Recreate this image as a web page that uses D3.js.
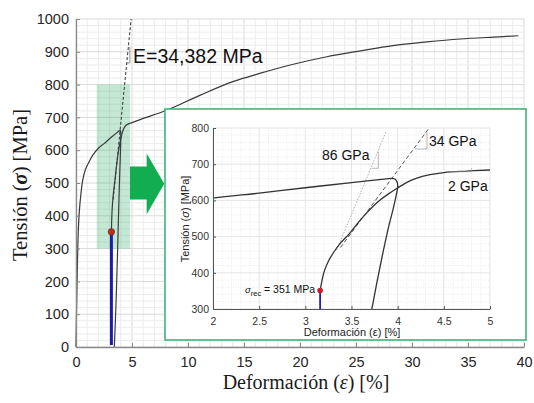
<!DOCTYPE html>
<html>
<head>
<meta charset="utf-8">
<script src="https://cdn.jsdelivr.net/npm/d3@7"></script>
<style>
  html, body { margin: 0; padding: 0; background: #fff; }
  svg { display: block; }
</style>
</head>
<body>
<svg id="chart" width="534" height="403"></svg>
<script>
// ---- Data: stress–strain test with unload / reload cycle ----
// First loading branch (strain %, stress MPa)
const loadStrain = [0, 0.05, 0.1, 0.15, 0.2, 0.3, 0.45, 0.6, 0.85, 1.16, 1.5, 2.0, 2.5, 3.0, 3.5, 3.93];
const loadStress = [0, 110, 210, 290, 350, 415, 470, 509, 542, 564, 585, 606, 620, 635, 649, 661];

// Unloading branch
const unloadStrain = [3.93, 3.97, 3.995, 4.0, 3.985, 3.95, 3.9, 3.84, 3.78, 3.72, 3.66, 3.58, 3.5, 3.42];
const unloadStress = [661, 659, 650, 637, 615, 575, 525, 455, 380, 300, 230, 140, 65, 0];

// Reloading branch, from the recovery stress up to fracture
const reloadStrain = [3.16, 3.17, 3.19, 3.21, 3.25, 3.30, 3.38, 3.48, 3.57, 3.66, 3.74, 3.81, 3.9, 3.99, 4.1, 4.2, 4.35, 4.5, 4.75, 5.0, 6.0, 8.1, 11.1, 14.0, 16.4, 19.4, 22.4, 25.4, 28.3, 31.3, 34.3, 37.3, 39.5];
const reloadStress = [351, 365, 390, 408, 432, 454, 482, 509, 538, 564, 585, 601, 618, 633, 650, 661, 671, 677, 681, 684, 697, 722, 768, 809, 834, 862, 885, 903, 919, 930, 939, 945, 949];

// Recovery point
const recoveryStrain = 3.16;
const recoveryStress = 351;

// Tangent modulus lines
const modulusE = 343.82;          // MPa per % strain  (E = 34,382 MPa)
const modulusStrain0 = 2.014;     // strain intercept of the E line
const mainTangentStress = [450, 1000];
const insetTangentStress = [470, 803];
const steepStrain = [3.34, 3.874]; // 86 GPa tangent
const steepStress = [463, 790];

// Ticks
const strainTicks = [0, 5, 10, 15, 20, 25, 30, 35, 40];
const stressTicks = [0, 100, 200, 300, 400, 500, 600, 700, 800, 900, 1000];
const insetStrainTicks = [2, 2.5, 3, 3.5, 4, 4.5, 5];
const insetStressTicks = [300, 400, 500, 600, 700, 800];

// Zoom window highlighted on the main plot
const zoomStrain = [1.85, 4.82];
const zoomStress = [300, 800];

const zip = (xs, ys) => xs.map((v, i) => [v, ys[i]]);
const loading = zip(loadStrain, loadStress);
const unloading = zip(unloadStrain, unloadStress);
const reloading = zip(reloadStrain, reloadStress);
const tangentMain = mainTangentStress.map(s => [modulusStrain0 + s / modulusE, s]);
const tangentInset = insetTangentStress.map(s => [modulusStrain0 + s / modulusE, s]);
const steepLine = zip(steepStrain, steepStress);

const svg = d3.select("#chart");
const sansFont = "'Liberation Sans', Arial, sans-serif";
const serifFont = "'Liberation Serif', 'Times New Roman', serif";

// ---------------- Main chart ----------------
const x = d3.scaleLinear().domain([0, 40]).range([76, 524]);
const y = d3.scaleLinear().domain([0, 1000]).range([347, 19]);

const main = svg.append("g");

// grid
const gGrid = main.append("g");
gGrid.selectAll("line.vmin").data(d3.range(0, 41, 1)).join("line")
  .attr("x1", d => x(d)).attr("x2", d => x(d)).attr("y1", y(0)).attr("y2", y(1000))
  .attr("stroke", d => d % 5 === 0 ? "#d9d9d9" : "#ececec").attr("stroke-width", 1);
gGrid.selectAll("line.hmin").data(d3.range(0, 1001, 20)).join("line")
  .attr("y1", d => y(d)).attr("y2", d => y(d)).attr("x1", x(0)).attr("x2", x(40))
  .attr("stroke", d => d % 100 === 0 ? "#d9d9d9" : "#ececec").attr("stroke-width", 1);

// zoom window
main.append("rect")
  .attr("x", x(zoomStrain[0])).attr("y", y(zoomStress[1]))
  .attr("width", x(zoomStrain[1]) - x(zoomStrain[0]))
  .attr("height", y(zoomStress[0]) - y(zoomStress[1]))
  .attr("fill", "#3cb371").attr("fill-opacity", 0.3);

const lineMain = d3.line().x(d => x(d[0])).y(d => y(d[1])).curve(d3.curveCatmullRom.alpha(0.5));

main.append("path").datum(tangentMain).attr("d", d3.line().x(d => x(d[0])).y(d => y(d[1])))
  .attr("fill", "none").attr("stroke", "#333").attr("stroke-width", 1).attr("stroke-dasharray", "3,2");

[loading, unloading, reloading].forEach(seg => {
  main.append("path").datum(seg).attr("d", lineMain)
    .attr("fill", "none").attr("stroke", "#3a3a3a").attr("stroke-width", 1.2);
});

main.append("line")
  .attr("x1", x(recoveryStrain)).attr("x2", x(recoveryStrain))
  .attr("y1", y(0) - 2).attr("y2", y(recoveryStress))
  .attr("stroke", "#1c1ca8").attr("stroke-width", 3);
main.append("circle").attr("cx", x(recoveryStrain)).attr("cy", y(recoveryStress)).attr("r", 3.3)
  .attr("fill", "#b2321f").attr("stroke", "#6a1a10").attr("stroke-width", 0.5);

// axes
const xAxis = d3.axisBottom(x).tickValues(strainTicks).tickFormat(d3.format("d"))
  .tickSizeInner(-4).tickSizeOuter(0).tickPadding(10);
const yAxis = d3.axisLeft(y).tickValues(stressTicks).tickFormat(d3.format("d"))
  .tickSizeInner(-4).tickSizeOuter(0).tickPadding(7);
const gx = main.append("g").attr("transform", `translate(0,${y(0)})`).call(xAxis);
const gy = main.append("g").attr("transform", `translate(${x(0)},0)`).call(yAxis);
[gx, gy].forEach(g => {
  g.select(".domain").attr("stroke", "#8a8a8a").attr("stroke-width", 1.3);
  g.selectAll(".tick line").attr("stroke", "#8a8a8a");
  g.selectAll(".tick text").attr("fill", "#262626")
    .style("font-family", sansFont).style("font-size", "14.5px");
});

// axis titles
const xTitle = main.append("text").attr("x", 306).attr("y", 389).attr("text-anchor", "middle")
  .style("font-family", serifFont).style("font-size", "20px").attr("fill", "#1a1a1a");
xTitle.append("tspan").text("Deformación (");
xTitle.append("tspan").style("font-style", "italic").text("ε");
xTitle.append("tspan").text(") [%]");

const yTitle = main.append("text").attr("transform", "translate(27,185) rotate(-90)").attr("text-anchor", "middle")
  .style("font-family", serifFont).style("font-size", "20.5px").attr("fill", "#1a1a1a");
yTitle.append("tspan").text("Tensión (");
yTitle.append("tspan").style("font-style", "italic").style("font-weight", "bold").text("σ");
yTitle.append("tspan").text(") [MPa]");

// modulus label with slope triangle
{
  const sLo = 866, sHi = 915;
  const eLo = modulusStrain0 + sLo / modulusE, eHi = modulusStrain0 + sHi / modulusE;
  main.append("path")
    .attr("d", `M${x(eLo)},${y(sLo)}H${x(eHi) + 1.5}V${y(sHi)}`)
    .attr("fill", "none").attr("stroke", "#777").attr("stroke-width", 0.8);
  main.append("text").attr("x", 133).attr("y", 63).text("E=34,382 MPa")
    .style("font-family", sansFont).style("font-size", "19.5px").attr("fill", "#111");
}

// arrow pointing to the zoomed view
{
  const pts = [[4.82, 550], [6.31, 550], [6.31, 590], [7.88, 498], [6.31, 405], [6.31, 450], [4.82, 450]];
  main.append("path").attr("d", "M" + pts.map(p => `${x(p[0])},${y(p[1])}`).join("L") + "Z")
    .attr("fill", "#12ad50");
}

// ---------------- Inset (zoomed view) ----------------
const inset = svg.append("g");
inset.append("rect").attr("x", 165).attr("y", 109).attr("width", 361).attr("height", 231)
  .attr("fill", "#fff").attr("stroke", "#3db57a").attr("stroke-width", 1.6);

const xi = d3.scaleLinear().domain([2, 5]).range([213, 490]);
const yi = d3.scaleLinear().domain([300, 800]).range([309, 128]);

svg.append("defs").append("clipPath").attr("id", "insetClip")
  .append("rect").attr("x", xi(2)).attr("y", yi(800)).attr("width", xi(5) - xi(2)).attr("height", yi(300) - yi(800));

const gi = inset.append("g");
// minor grid (dotted) and major grid
gi.selectAll("line.vm").data(d3.range(20, 51, 1).map(d => d / 10)).join("line")
  .attr("x1", d => xi(d)).attr("x2", d => xi(d)).attr("y1", yi(300)).attr("y2", yi(800))
  .attr("stroke", d => (Math.round(d * 10) % 5 === 0) ? "#dedede" : "#e6e6e6")
  .attr("stroke-width", 0.8)
  .attr("stroke-dasharray", d => (Math.round(d * 10) % 5 === 0) ? null : "1,1.5");
gi.selectAll("line.hm").data(d3.range(300, 801, 20)).join("line")
  .attr("y1", d => yi(d)).attr("y2", d => yi(d)).attr("x1", xi(2)).attr("x2", xi(5))
  .attr("stroke", d => d % 100 === 0 ? "#dedede" : "#e6e6e6")
  .attr("stroke-width", 0.8)
  .attr("stroke-dasharray", d => d % 100 === 0 ? null : "1,1.5");

const plotI = inset.append("g").attr("clip-path", "url(#insetClip)");
const lineInset = d3.line().x(d => xi(d[0])).y(d => yi(d[1])).curve(d3.curveCatmullRom.alpha(0.5));
const straightInset = d3.line().x(d => xi(d[0])).y(d => yi(d[1]));

plotI.append("path").datum(steepLine).attr("d", straightInset)
  .attr("fill", "none").attr("stroke", "#9a9a9a").attr("stroke-width", 0.8).attr("stroke-dasharray", "1.5,1.5");
plotI.append("path").datum(tangentInset).attr("d", straightInset)
  .attr("fill", "none").attr("stroke", "#444").attr("stroke-width", 0.9).attr("stroke-dasharray", "4,2.5");

[loading, unloading, reloading].forEach(seg => {
  plotI.append("path").datum(seg).attr("d", lineInset)
    .attr("fill", "none").attr("stroke", "#333").attr("stroke-width", 1.3);
});

plotI.append("line")
  .attr("x1", xi(recoveryStrain)).attr("x2", xi(recoveryStrain))
  .attr("y1", yi(300)).attr("y2", yi(recoveryStress))
  .attr("stroke", "#2020b0").attr("stroke-width", 1.8);
inset.append("circle").attr("cx", xi(recoveryStrain)).attr("cy", yi(recoveryStress)).attr("r", 2.8)
  .attr("fill", "#c81e2a");

// inset axes
const xiAxis = d3.axisBottom(xi).tickValues(insetStrainTicks).tickFormat(d => String(d))
  .tickSizeInner(-3).tickSizeOuter(0).tickPadding(9);
const yiAxis = d3.axisLeft(yi).tickValues(insetStressTicks).tickFormat(d3.format("d"))
  .tickSizeInner(-3).tickSizeOuter(0).tickPadding(4);
const gxi = inset.append("g").attr("transform", `translate(0,${yi(300)})`).call(xiAxis);
const gyi = inset.append("g").attr("transform", `translate(${xi(2)},0)`).call(yiAxis);
[gxi, gyi].forEach(g => {
  g.select(".domain").attr("stroke", "#555").attr("stroke-width", 1);
  g.selectAll(".tick line").attr("stroke", "#555");
  g.selectAll(".tick text").attr("fill", "#333")
    .style("font-family", sansFont).style("font-size", "10.5px");
});

const xiTitle = inset.append("text").attr("x", 352).attr("y", 336).attr("text-anchor", "middle")
  .style("font-family", sansFont).style("font-size", "11px").attr("fill", "#222");
xiTitle.append("tspan").text("Deformación (ε) [%]");

const yiTitle = inset.append("text").attr("transform", "translate(189,219) rotate(-90)").attr("text-anchor", "middle")
  .style("font-family", sansFont).style("font-size", "11px").attr("fill", "#222");
yiTitle.append("tspan").text("Tensión (");
yiTitle.append("tspan").style("font-style", "italic").text("σ");
yiTitle.append("tspan").text(") [MPa]");

// inset annotations
const annoStyle = sel => sel.style("font-family", sansFont).attr("fill", "#111");
annoStyle(inset.append("text").attr("x", 322).attr("y", 160).style("font-size", "14px").text("86 GPa"));
annoStyle(inset.append("text").attr("x", 429).attr("y", 146).style("font-size", "14px").text("34 GPa"));
annoStyle(inset.append("text").attr("x", 448).attr("y", 190.5).style("font-size", "14px").text("2 GPa"));

inset.append("path").attr("d", "M371.7,168.3H378.3V151.7")
  .attr("fill", "none").attr("stroke", "#999").attr("stroke-width", 0.7);
inset.append("path").attr("d", "M415,149H427V132")
  .attr("fill", "none").attr("stroke", "#999").attr("stroke-width", 0.7);
inset.append("path").attr("d", "M450,171.7H471.7V168")
  .attr("fill", "none").attr("stroke", "#999").attr("stroke-width", 0.7);

const rec = inset.append("text").attr("x", 245).attr("y", 293).style("font-family", sansFont).attr("fill", "#111");
rec.append("tspan").style("font-style", "italic").style("font-size", "9.5px").text("σ");
rec.append("tspan").attr("dy", 3).style("font-size", "7.5px").text("rec");
rec.append("tspan").attr("dy", -3).style("font-size", "10.5px").text(" = 351 MPa");
</script>
</body>
</html>
